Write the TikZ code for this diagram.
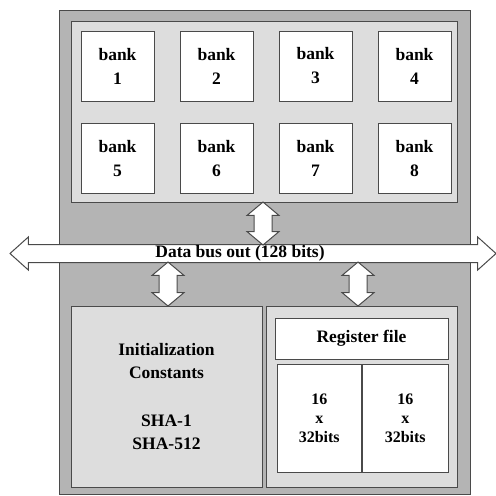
\documentclass[tikz,border=0pt]{standalone}
\usepackage{fontspec}
\setmainfont{Liberation Serif}
\usetikzlibrary{positioning,shapes.arrows}
\definecolor{chipGray}{HTML}{B4B4B4}
\definecolor{areaGray}{HTML}{DDDDDD}
\definecolor{edgeGray}{HTML}{4A4A4A}

\begin{document}
\begin{tikzpicture}[x=0.5pt, y=-0.5pt, line width=0.5pt,
    font=\fontsize{8.75}{12}\selectfont\bfseries,
    bankbox/.style={draw=edgeGray, fill=white, align=center, inner sep=0pt,
      minimum width=36.5pt, minimum height=35pt},
    vbus/.style={double arrow, draw=edgeGray, fill=white, inner sep=4.25pt,
      shape border rotate=90, double arrow head extend=3.5pt,
      double arrow tip angle=100}]
    \useasboundingbox (0,0) rectangle (496,495);

    % outer chip and memory area
    \node[draw=edgeGray, fill=chipGray, inner sep=0pt, minimum width=205.5pt,
          minimum height=242pt] (chip) at (264.5,252) {};
    \node[draw=edgeGray, fill=areaGray, inner sep=0pt, minimum width=193pt,
          minimum height=90.5pt] (mem) at (264,111.5) {};

    \node[bankbox] (b1) at (117.5,66) {bank\\1};
    \node[bankbox, right=12.5pt of b1] (b2) {bank\\2};
    \node[bankbox, right=12.5pt of b2] (b3) {bank\\3};
    \node[bankbox, right=12.5pt of b3] (b4) {bank\\4};
    \node[bankbox, below=10.5pt of b1] (b5) {bank\\5};
    \node[bankbox, right=12.5pt of b5] (b6) {bank\\6};
    \node[bankbox, right=12.5pt of b6] (b7) {bank\\7};
    \node[bankbox, right=12.5pt of b7] (b8) {bank\\8};

    % lower blocks
    \node[draw=edgeGray, fill=areaGray, inner sep=0pt, minimum width=95.5pt,
          minimum height=90.5pt, align=center,
          font=\fontsize{8.75}{11.5}\selectfont\bfseries] (init) at (166.5,396.5)
      {Initialization\\Constants\\[12.5pt]SHA-1\\SHA-512};
    \node[draw=edgeGray, fill=areaGray, inner sep=0pt, minimum width=95.5pt,
          minimum height=90.5pt] (regs) at (361.5,396.5) {};
    \node[draw=edgeGray, fill=white, inner sep=0pt, minimum width=86.5pt,
          minimum height=20.5pt] (rfile) at (361.5,338.5) {Register file};
    \node[draw=edgeGray, fill=white, inner sep=0pt, minimum width=42.25pt,
          minimum height=54pt, align=center,
          font=\fontsize{8}{9.5}\selectfont\bfseries] (rlo) at (319.25,418) {16\\x\\32bits};
    \node[draw=edgeGray, fill=white, inner sep=0pt, minimum width=42.75pt,
          minimum height=54pt, align=center,
          font=\fontsize{8}{9.5}\selectfont\bfseries, right=0pt of rlo] (rhi) {16\\x\\32bits};

    % data bus
    \node[double arrow, draw=edgeGray, fill=white, inner sep=4.25pt, minimum height=243pt,
          double arrow head extend=3.75pt, double arrow tip angle=84] (bus) at (253,253.5) {};
    \node (buslabel) at (240,253.5) {Data bus out (128 bits)};

    \node[vbus, minimum height=21.5pt] (memport) at (263,223.5) {};
    \node[vbus, minimum height=22pt] (initport) at (168,284) {};
    \node[vbus, minimum height=22pt] (regport) at (358,284) {};
  \end{tikzpicture}
\end{document}
